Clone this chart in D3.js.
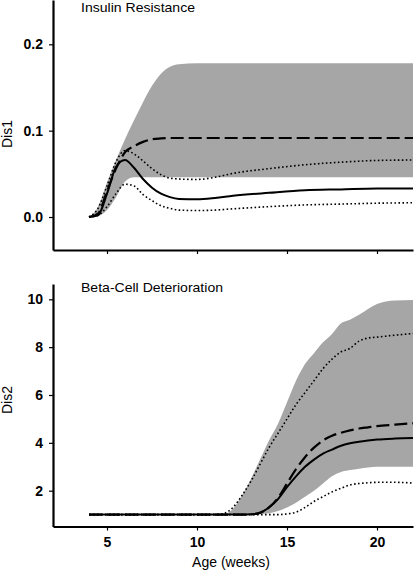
<!DOCTYPE html>
<html><head><meta charset="utf-8">
<script src="https://cdn.jsdelivr.net/npm/d3@7"></script>
<style>
html,body{margin:0;padding:0;background:#fff;}
svg{display:block;font-family:"Liberation Sans",Arial,sans-serif;}
</style></head>
<body>
<svg id="chart" width="414" height="577"></svg>
<script>
// ---------- Data ----------
const xTicks = [5, 10, 15, 20];

// Panel 1: Insulin Resistance (Dis1)
const ageIR      = [4, 4.5, 5, 5.5, 6, 6.5, 7, 7.5, 8, 8.5, 9, 10, 11, 12, 14, 16, 18, 20, 22];
const irBandHi   = [0, 0.012, 0.040, 0.066, 0.090, 0.112, 0.133, 0.152, 0.166, 0.174, 0.177, 0.178, 0.178, 0.178, 0.178, 0.178, 0.178, 0.178, 0.178];
const irBandLo   = [0, 0.001, 0.008, 0.023, 0.041, 0.046, 0.046, 0.046, 0.046, 0.046, 0.046, 0.046, 0.046, 0.046, 0.046, 0.046, 0.046, 0.046, 0.046];
const irMedian   = [0, 0.002, 0.027, 0.058, 0.066, 0.057, 0.044, 0.034, 0.027, 0.023, 0.021, 0.0205, 0.022, 0.0245, 0.028, 0.031, 0.032, 0.033, 0.033];
const irMean     = [0, 0.004, 0.030, 0.056, 0.075, 0.082, 0.087, 0.090, 0.091, 0.0915, 0.0915, 0.0915, 0.0915, 0.0915, 0.0915, 0.0915, 0.0915, 0.0915, 0.0915];
const irDotHi    = [0, 0.010, 0.036, 0.064, 0.077, 0.073, 0.065, 0.056, 0.049, 0.045, 0.044, 0.0435, 0.046, 0.0505, 0.056, 0.0605, 0.0635, 0.0655, 0.066];
const irDotLo    = [0, 0.002, 0.012, 0.027, 0.038, 0.036, 0.026, 0.019, 0.013, 0.010, 0.008, 0.0075, 0.008, 0.0095, 0.012, 0.014, 0.015, 0.016, 0.0165];
const irYTicks   = [0.0, 0.1, 0.2];

// Panel 2: Beta-Cell Deterioration (Dis2)
const ageBC      = [4, 11, 11.5, 12, 12.5, 13, 13.5, 14, 14.5, 15, 15.5, 16, 16.5, 17, 17.5, 18, 18.5, 19, 19.5, 20, 21, 22];
const bcBandHi   = [1, 1, 1.02, 1.25, 1.8, 2.5, 3.3, 4.1, 4.8, 5.7, 6.6, 7.3, 7.75, 8.2, 8.55, 9.0, 9.15, 9.35, 9.6, 9.8, 9.95, 9.97];
const bcBandLo   = [1, 1, 1, 1, 1, 1, 1.02, 1.06, 1.15, 1.3, 1.5, 1.75, 2.0, 2.3, 2.6, 2.78, 2.86, 2.92, 2.97, 3.0, 3.0, 3.0];
const bcMedian   = [1, 1, 1, 1, 1, 1.01, 1.08, 1.3, 1.65, 2.15, 2.6, 3.0, 3.3, 3.55, 3.72, 3.88, 3.98, 4.05, 4.1, 4.14, 4.18, 4.2];
const bcMean     = [1, 1, 1, 1, 1, 1.01, 1.08, 1.3, 1.7, 2.3, 2.9, 3.4, 3.8, 4.1, 4.3, 4.42, 4.52, 4.6, 4.65, 4.7, 4.76, 4.82];
const bcDotHi    = [1, 1, 1.05, 1.3, 1.8, 2.4, 3.1, 3.8, 4.4, 5.0, 5.6, 6.1, 6.6, 7.1, 7.5, 7.8, 7.95, 8.25, 8.38, 8.42, 8.5, 8.57];
const bcDotLo    = [1, 1, 1, 1, 1, 1, 1, 1, 1, 1.03, 1.1, 1.3, 1.55, 1.75, 1.95, 2.1, 2.24, 2.3, 2.33, 2.35, 2.35, 2.32];
const bcYTicks   = [2, 4, 6, 8, 10];

// ---------- Drawing ----------
const svg = d3.select("#chart");
const x = d3.scaleLinear().domain([2, 22]).range([53, 413]);
const band = "#a6a6a6";

function panel(cfg) {
  const g = svg.append("g");
  const y = d3.scaleLinear().domain(cfg.yDomain).range(cfg.yRange);
  const zip = (ys) => cfg.ages.map((a, i) => [a, ys[i]]);

  const area = d3.area()
    .x((d, i) => x(cfg.ages[i]))
    .y0((d, i) => y(cfg.lo[i]))
    .y1((d, i) => y(cfg.hi[i]))
    .curve(d3.curveMonotoneX);
  g.append("path").datum(cfg.hi).attr("d", area).attr("fill", band);

  const line = d3.line().x(d => x(d[0])).y(d => y(d[1])).curve(d3.curveMonotoneX);
  const styles = [
    {data: cfg.dotHi, w: 1.6, dash: "1.6,2.4"},
    {data: cfg.dotLo, w: 1.6, dash: "1.6,2.4"},
    {data: cfg.mean, w: 2.2, dash: "13,5"},
    {data: cfg.median, w: 2.0, dash: null}
  ];
  styles.forEach(s => {
    g.append("path").datum(zip(s.data)).attr("d", line)
      .attr("fill", "none").attr("stroke", "#000")
      .attr("stroke-width", s.w)
      .attr("stroke-dasharray", s.dash);
  });

  // axes
  const xAxis = d3.axisBottom(x).tickValues(xTicks).tickSize(4).tickSizeOuter(0)
    .tickFormat(cfg.xLabels ? d3.format("d") : "");
  const gx = g.append("g").attr("transform", `translate(0,${cfg.yRange[0]})`).call(xAxis);
  gx.select(".domain").attr("stroke-width", 2.2);
  gx.selectAll(".tick line").attr("stroke-width", 1.2);
  gx.selectAll(".tick text").attr("font-size", 14).attr("font-weight", "bold")
    .attr("font-family", "Liberation Sans, Arial, sans-serif").attr("dy", "0.95em").attr("fill", "#000");

  const yAxis = d3.axisLeft(y).tickValues(cfg.yTicks).tickSize(4).tickSizeOuter(0)
    .tickFormat(cfg.yFmt);
  const gy = g.append("g").attr("transform", `translate(53,0)`).call(yAxis);
  gy.select(".domain").attr("stroke-width", 2.2);
  gy.selectAll(".tick line").attr("stroke-width", 1.2);
  gy.selectAll(".tick text").attr("font-size", 14).attr("font-weight", "bold")
    .attr("font-family", "Liberation Sans, Arial, sans-serif").attr("x", -10).attr("fill", "#000");

  // title
  g.append("text").attr("x", 81).attr("y", cfg.titleY).attr("font-size", 13.5)
    .attr("font-family", "Liberation Sans, Arial, sans-serif")
    .attr("textLength", cfg.titleLen).attr("lengthAdjust", "spacingAndGlyphs")
    .attr("fill", "#000").text(cfg.title);
  // y label
  g.append("text").attr("transform", `translate(12,${cfg.yLabelY}) rotate(-90)`)
    .attr("font-family", "Liberation Sans, Arial, sans-serif")
    .attr("text-anchor", "middle").attr("font-size", 14).attr("fill", "#000").text(cfg.yLabel);
}

panel({
  ages: ageIR, hi: irBandHi, lo: irBandLo, median: irMedian, mean: irMean,
  dotHi: irDotHi, dotLo: irDotLo, yTicks: irYTicks, yFmt: d3.format(".1f"),
  yDomain: [-0.0382, 0.2513], yRange: [250, 0], xLabels: false,
  title: "Insulin Resistance", titleLen: 114, titleY: 12, yLabel: "Dis1", yLabelY: 134
});
panel({
  ages: ageBC, hi: bcBandHi, lo: bcBandLo, median: bcMedian, mean: bcMean,
  dotHi: bcDotHi, dotLo: bcDotLo, yTicks: bcYTicks, yFmt: d3.format("d"),
  yDomain: [0.503, 10.64], yRange: [526.5, 284], xLabels: true,
  title: "Beta-Cell Deterioration", titleLen: 142, titleY: 292, yLabel: "Dis2", yLabelY: 400
});

svg.append("text").attr("x", 231).attr("y", 567).attr("text-anchor", "middle")
  .attr("font-family", "Liberation Sans, Arial, sans-serif")
  .attr("font-size", 14).attr("fill", "#000").text("Age (weeks)");
</script>
</body></html>
